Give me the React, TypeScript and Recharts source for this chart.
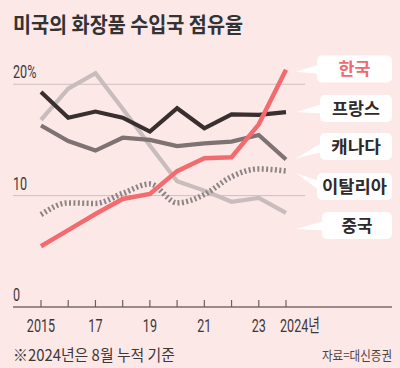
import React from 'react';
import { LineChart, Line, XAxis, YAxis, ReferenceLine } from 'recharts';

// ---- data ----
const years = [2015, 2016, 2017, 2018, 2019, 2020, 2021, 2022, 2023, 2024];
const xTickLabels = ['2015', '', '17', '', '19', '', '21', '', '23', '2024년'];
const yTicks = [0, 10, 20];
const yTickLabels = ['0', '10', '20%'];

const korea = [5.45, 6.9, 8.35, 9.7, 10.15, 12.2, 13.35, 13.45, 16.4, 21.3];
const france = [19.3, 17.0, 17.55, 17.0, 15.75, 17.85, 16.05, 17.3, 17.25, 17.5];
const canada = [16.3, 14.9, 14.05, 15.2, 15.0, 14.45, 14.7, 14.85, 15.45, 13.25];
const italy = [8.3, 9.35, 9.3, 10.2, 11.05, 9.35, 10.1, 11.7, 12.4, 12.2];
const china = [16.8, 19.6, 21.0, 17.8, 14.5, 11.3, 10.45, 9.45, 9.8, 8.45];

const seriesNames = ['한국', '프랑스', '캐나다', '이탈리아', '중국'];
const title = '미국의 화장품 수입국 점유율';
const footnote = '※2024년은 8월 누적 기준';
const source = '자료=대신증권';

const data = years.map((year, i) => ({
  year,
  korea: korea[i],
  france: france[i],
  canada: canada[i],
  italy: italy[i],
  china: china[i],
}));

// ---- styles ----
const BG = '#fde8e8';
const KFONT = "'Noto Sans CJK KR', 'Noto Sans', sans-serif";
const NFONT = "Roboto, 'Noto Sans CJK KR', sans-serif";
const NUM_COLOR = '#3d3838';
const GRID = '#cdbfbf';

const labelStyles = [
  { name: seriesNames[0], color: '#ef6a6d', cy: 69, tipDy: 2, boxX: 317, tl: 32 },
  { name: seriesNames[1], color: '#2f2a2a', cy: 108.5, tipDy: 0, boxX: 320, tl: 48 },
  { name: seriesNames[2], color: '#2f2a2a', cy: 146.5, tipDy: -1, boxX: 320, tl: 50 },
  { name: seriesNames[3], color: '#2f2a2a', cy: 186.5, tipDy: 2, boxX: 317, tl: 65 },
  { name: seriesNames[4], color: '#2f2a2a', cy: 225.5, tipDy: 16, boxX: 322, tl: 31 },
];

const makeEndLabel = (cfg: any) => (props: any) => {
  const { x, y, index } = props;
  if (index !== years.length - 1) return null;
  const right = 392;
  const bh = 27;
  const bw = right - cfg.boxX;
  const tipX = x + 10;
  const tipY = y + cfg.tipDy;
  return (
    <g key={`lbl-${cfg.name}`}>
      <polygon
        points={`${tipX},${tipY} ${cfg.boxX + 4},${cfg.cy - 5} ${cfg.boxX + 4},${cfg.cy + 5}`}
        fill="#ffffff"
      />
      <rect x={cfg.boxX} y={cfg.cy - bh / 2} width={bw} height={bh} rx={5} fill="#ffffff" />
      <text
        x={cfg.boxX + bw / 2}
        y={cfg.cy + 6}
        textAnchor="middle"
        fontSize={17}
        fontWeight={700}
        fill={cfg.color}
        fontFamily={KFONT}
        textLength={cfg.tl}
        lengthAdjust="spacingAndGlyphs"
      >
        {cfg.name}
      </text>
    </g>
  );
};

const XTick = (props: any) => {
  const { x, y, payload } = props;
  const idx = years.indexOf(payload.value);
  const label = xTickLabels[idx];
  if (!label) return <g />;
  const last = idx === years.length - 1;
  return (
    <text
      transform={`translate(${last ? x - 6 : x},${y + 31.5}) scale(0.7,1)`}
      textAnchor={last ? 'start' : 'middle'}
      fontFamily={NFONT}
      fontSize={18}
      fill={NUM_COLOR}
    >
      {label}
    </text>
  );
};

const YTick = (props: any) => {
  const { y, payload } = props;
  const idx = yTicks.indexOf(payload.value);
  return (
    <text
      transform={`translate(13,${y - 6}) scale(0.7,1)`}
      textAnchor="start"
      fontFamily={NFONT}
      fontSize={18}
      fill={NUM_COLOR}
    >
      {yTickLabels[idx]}
    </text>
  );
};

export default function App() {
  return (
    <div style={{ position: 'absolute', left: 0, top: 0, width: 400, height: 368, background: BG }}>
      <LineChart
        width={400}
        height={368}
        data={data}
        margin={{ top: 62, right: 8, bottom: 31, left: 0 }}
      >
        <XAxis
          dataKey="year"
          type="number"
          domain={[2015, 2024]}
          ticks={years}
          interval={0}
          padding={{ left: 28, right: 106 }}
          height={30}
          tickSize={-7}
          tickMargin={0}
          axisLine={{ stroke: '#7a6d6d', strokeWidth: 1.5 }}
          tickLine={{ stroke: '#6d6060', strokeWidth: 1.2 }}
          tick={XTick}
        />
        <YAxis
          type="number"
          domain={[0, 22]}
          ticks={yTicks}
          interval={0}
          width={13}
          axisLine={false}
          tickLine={false}
          tick={YTick}
        />
        <ReferenceLine
          segment={[{ x: 2013.97, y: 10 }, { x: 2024.7, y: 10 }]}
          ifOverflow="visible"
          stroke={GRID}
          strokeWidth={1}
        />
        <ReferenceLine
          segment={[{ x: 2013.97, y: 20 }, { x: 2024.7, y: 20 }]}
          ifOverflow="visible"
          stroke={GRID}
          strokeWidth={1}
        />
        <Line
          dataKey="china"
          type="linear"
          stroke="#c9bcbc"
          strokeWidth={4.2}
          dot={false}
          isAnimationActive={false}
          label={makeEndLabel(labelStyles[4])}
        />
        <Line
          dataKey="italy"
          type="monotone"
          stroke="#8d8585"
          strokeWidth={5.5}
          strokeDasharray="2 2.4"
          dot={false}
          isAnimationActive={false}
          label={makeEndLabel(labelStyles[3])}
        />
        <Line
          dataKey="canada"
          type="linear"
          stroke="#7e7272"
          strokeWidth={4.2}
          dot={false}
          isAnimationActive={false}
          label={makeEndLabel(labelStyles[2])}
        />
        <Line
          dataKey="france"
          type="linear"
          stroke="#3a2f2f"
          strokeWidth={4.2}
          dot={false}
          isAnimationActive={false}
          label={makeEndLabel(labelStyles[1])}
        />
        <Line
          dataKey="korea"
          type="linear"
          stroke="#f36b6e"
          strokeWidth={4.5}
          dot={false}
          isAnimationActive={false}
          label={makeEndLabel(labelStyles[0])}
        />
      </LineChart>
      <svg
        width={400}
        height={368}
        style={{ position: 'absolute', left: 0, top: 0, pointerEvents: 'none' }}
      >
        <text
          x={13}
          y={31.5}
          fontSize={21}
          fontWeight={700}
          fill="#333333"
          fontFamily={KFONT}
          textLength={230}
          lengthAdjust="spacingAndGlyphs"
        >
          {title}
        </text>
        <text
          x={13}
          y={360.5}
          fontSize={16}
          fill="#3d3838"
          fontFamily={KFONT}
          textLength={162}
          lengthAdjust="spacingAndGlyphs"
        >
          {footnote}
        </text>
        <text
          x={392}
          y={359.5}
          textAnchor="end"
          fontSize={13}
          fill="#4a4444"
          fontFamily={KFONT}
          textLength={70}
          lengthAdjust="spacingAndGlyphs"
        >
          {source}
        </text>
      </svg>
    </div>
  );
}
